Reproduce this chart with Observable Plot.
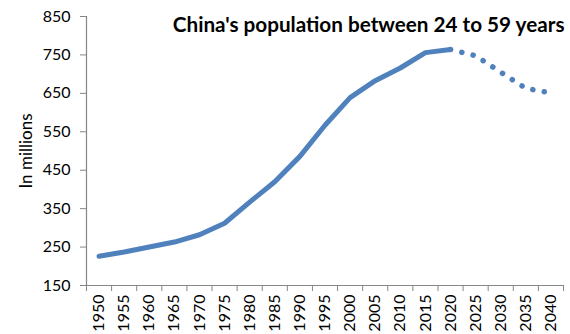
<!DOCTYPE html>
<html>
<head>
<meta charset="utf-8">
<script src="https://cdn.jsdelivr.net/npm/d3@7"></script>
<script src="https://cdn.jsdelivr.net/npm/@observablehq/plot@0.6"></script>
<style>
  html, body { margin: 0; padding: 0; background: #fff; }
  #chart { width: 570px; height: 334px; }
  #chart svg { display: block; }
</style>
</head>
<body>
<div id="chart"></div>
<script>
// Population aged 24–59 in China, millions (estimates to 2020, projections after)
const years = [1950, 1955, 1960, 1965, 1970, 1975, 1980, 1985, 1990, 1995,
               2000, 2005, 2010, 2015, 2020, 2025, 2030, 2035, 2040];
const population = [226, 237, 250, 263, 282, 312, 367, 420, 486, 567,
                    639, 683, 716, 756, 764, 748, 705, 663, 651];
const projectionStart = 2020;
const yTicks = [150, 250, 350, 450, 550, 650, 750, 850];

const rows = years.map((year, i) => ({year, value: population[i]}));
const observed = rows.filter(d => d.year <= projectionStart);
const projected = rows.filter(d => d.year >= projectionStart);

// category boundaries between the five-year steps
const step = 5;
const edges = d3.range(years.length + 1).map(i => years[0] - step / 2 + i * step);

const blue = "#4F81BD";
const grey = "#868686";
const font = "Lato, 'Open Sans', sans-serif";

const chart = Plot.plot({
  width: 570,
  height: 334,
  marginLeft: 86,
  marginRight: 7,
  marginTop: 16,
  marginBottom: 49,
  style: {fontFamily: font, fontSize: "16px", color: "#000", background: "#fff"},
  x: {domain: [edges[0], edges[edges.length - 1]]},
  y: {domain: [150, 850]},
  marks: [
    Plot.ruleX([edges[0]], {stroke: grey, strokeWidth: 1.2}),
    Plot.ruleY([150], {stroke: grey, strokeWidth: 1.2}),
    Plot.axisY({ticks: yTicks, tickSize: 6, tickPadding: 10, stroke: grey, tickFormat: d => d, label: null, fill: "#000"}),
    Plot.axisX({ticks: edges, tickSize: 6, tickFormat: () => "", stroke: grey, label: null}),
    Plot.axisX({ticks: years, tickSize: 0, tickPadding: 9, tickRotate: -90, tickFormat: d => String(d), label: null, fill: "#000"}),
    Plot.text(["In millions"], {frameAnchor: "left", textAnchor: "middle", rotate: -90, dx: -60, fontSize: 17}),
    Plot.line(observed, {x: "year", y: "value", stroke: blue, strokeWidth: 5, strokeLinejoin: "round", strokeLinecap: "round"}),
    Plot.line(projected, {x: "year", y: "value", stroke: blue, strokeWidth: 5.5, strokeLinecap: "round", strokeDasharray: "0.1 11.5"}),
    Plot.text(["China's population between 24 to 59 years"], {frameAnchor: "top-right", dx: 1, dy: 1, fontWeight: "bold", fontSize: 20.7})
  ]
});
document.getElementById("chart").appendChild(chart);
</script>
</body>
</html>
